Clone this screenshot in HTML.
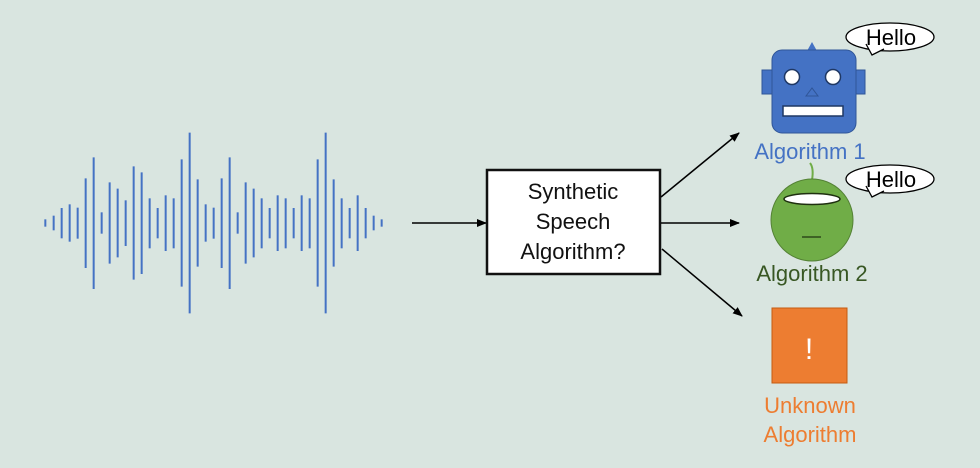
<!DOCTYPE html>
<html><head><style>
html,body{margin:0;padding:0;background:#d9e5e0;}
svg{display:block;font-family:"Liberation Sans",Arial,sans-serif;}
</style></head><body>
<svg width="980" height="468" viewBox="0 0 980 468" xmlns="http://www.w3.org/2000/svg">
<rect width="980" height="468" fill="#d9e5e0"/>
<defs><marker id="ah" markerWidth="10" markerHeight="8" refX="9" refY="4" orient="auto" markerUnits="userSpaceOnUse"><path d="M0,0 L10,4 L0,8 z" fill="#000"/></marker></defs>
<g transform="translate(40,120) scale(0.33333)" stroke="#4472c4" stroke-width="6">
<line x1="16" y1="298" x2="16" y2="320"/><line x1="41" y1="287" x2="41" y2="331"/><line x1="65" y1="264" x2="65" y2="355"/><line x1="89" y1="253" x2="89" y2="365"/><line x1="113" y1="263" x2="113" y2="356"/><line x1="137" y1="175" x2="137" y2="444"/><line x1="161" y1="112" x2="161" y2="507"/><line x1="185" y1="277" x2="185" y2="341"/><line x1="209" y1="187" x2="209" y2="431"/><line x1="233" y1="206" x2="233" y2="412"/><line x1="257" y1="241" x2="257" y2="378"/><line x1="281" y1="139" x2="281" y2="479"/><line x1="305" y1="157" x2="305" y2="462"/><line x1="329" y1="235" x2="329" y2="385"/><line x1="353" y1="264" x2="353" y2="355"/><line x1="377" y1="226" x2="377" y2="393"/><line x1="401" y1="235" x2="401" y2="385"/><line x1="425" y1="118" x2="425" y2="500"/><line x1="449" y1="38" x2="449" y2="580"/><line x1="473" y1="178" x2="473" y2="440"/><line x1="497" y1="253" x2="497" y2="365"/><line x1="521" y1="263" x2="521" y2="356"/><line x1="545" y1="175" x2="545" y2="444"/><line x1="569" y1="112" x2="569" y2="507"/><line x1="593" y1="277" x2="593" y2="341"/><line x1="617" y1="187" x2="617" y2="431"/><line x1="641" y1="206" x2="641" y2="412"/><line x1="665" y1="235" x2="665" y2="385"/><line x1="689" y1="264" x2="689" y2="355"/><line x1="713" y1="226" x2="713" y2="393"/><line x1="737" y1="235" x2="737" y2="385"/><line x1="761" y1="264" x2="761" y2="355"/><line x1="785" y1="226" x2="785" y2="393"/><line x1="809" y1="235" x2="809" y2="385"/><line x1="833" y1="118" x2="833" y2="500"/><line x1="857" y1="38" x2="857" y2="580"/><line x1="881" y1="178" x2="881" y2="440"/><line x1="905" y1="235" x2="905" y2="385"/><line x1="929" y1="264" x2="929" y2="355"/><line x1="953" y1="226" x2="953" y2="393"/><line x1="977" y1="264" x2="977" y2="355"/><line x1="1001" y1="287" x2="1001" y2="331"/><line x1="1025" y1="298" x2="1025" y2="320"/>
</g>
<line x1="412" y1="223" x2="486" y2="223" stroke="#000" stroke-width="1.5" marker-end="url(#ah)"/>
<rect x="487" y="170" width="173" height="104" fill="#fff" stroke="#111" stroke-width="2.5"/>
<g font-size="22" text-anchor="middle" fill="#111"><text x="573" y="199">Synthetic</text><text x="573" y="229">Speech</text><text x="573" y="259">Algorithm?</text></g>
<line x1="661" y1="197" x2="739" y2="133" stroke="#000" stroke-width="1.5" marker-end="url(#ah)"/>
<line x1="661" y1="223" x2="739" y2="223" stroke="#000" stroke-width="1.5" marker-end="url(#ah)"/>
<line x1="662" y1="249" x2="742" y2="316" stroke="#000" stroke-width="1.5" marker-end="url(#ah)"/>
<!-- robot -->
<rect x="762" y="70" width="12" height="24" fill="#4472c4" stroke="#2f5597"/>
<rect x="853" y="70" width="12" height="24" fill="#4472c4" stroke="#2f5597"/>
<path d="M807,51 L812,42 L817,51 z" fill="#4472c4"/>
<rect x="772" y="50" width="84" height="83" rx="10" fill="#4472c4" stroke="#2f5597"/>
<circle cx="792" cy="77" r="7.5" fill="#fff" stroke="#1f3864" stroke-width="1.5"/>
<circle cx="833" cy="77" r="7.5" fill="#fff" stroke="#1f3864" stroke-width="1.5"/>
<path d="M806,96 L812,88 L818,96 z" fill="none" stroke="#2f5597"/>
<rect x="783" y="106" width="60" height="10" fill="#fff" stroke="#1f3864" stroke-width="1.5"/>
<text x="810" y="159" font-size="22" text-anchor="middle" fill="#4472c4">Algorithm 1</text>
<!-- bubbles -->
<g stroke="#000" stroke-width="1.3" fill="#fff">
<ellipse cx="890" cy="37" rx="44" ry="14"/>
<path d="M866,44 L872,55 L884,49"/>
<ellipse cx="890" cy="179" rx="44" ry="14"/>
<path d="M866,186 L872,197 L884,191"/>
</g>
<path d="M867,42 L873,52 L885,46 L880,40 z" fill="#fff"/>
<path d="M867,184 L873,194 L885,188 L880,182 z" fill="#fff"/>
<g font-size="22" fill="#000" text-anchor="middle"><text x="891" y="45">Hello</text><text x="891" y="187">Hello</text></g>
<!-- green -->
<path d="M810,163 Q814,168 812,180" fill="none" stroke="#70ad47" stroke-width="2"/>
<circle cx="812" cy="220" r="41" fill="#70ad47" stroke="#548235"/>
<ellipse cx="812" cy="199" rx="28" ry="5.5" fill="#fff" stroke="#1f3010" stroke-width="1.5"/>
<line x1="802" y1="237" x2="821" y2="237" stroke="#2d4a1a" stroke-width="1.5"/>
<text x="812" y="281" font-size="22" text-anchor="middle" fill="#385723">Algorithm 2</text>
<!-- orange -->
<rect x="772" y="308" width="75" height="75" fill="#ed7d31" stroke="#c55a11"/>
<text x="809" y="359" font-size="30" text-anchor="middle" fill="#fff">!</text>
<text x="810" y="413" font-size="22" text-anchor="middle" fill="#ed7d31">Unknown</text>
<text x="810" y="442" font-size="22" text-anchor="middle" fill="#ed7d31">Algorithm</text>
</svg>
</body></html>
